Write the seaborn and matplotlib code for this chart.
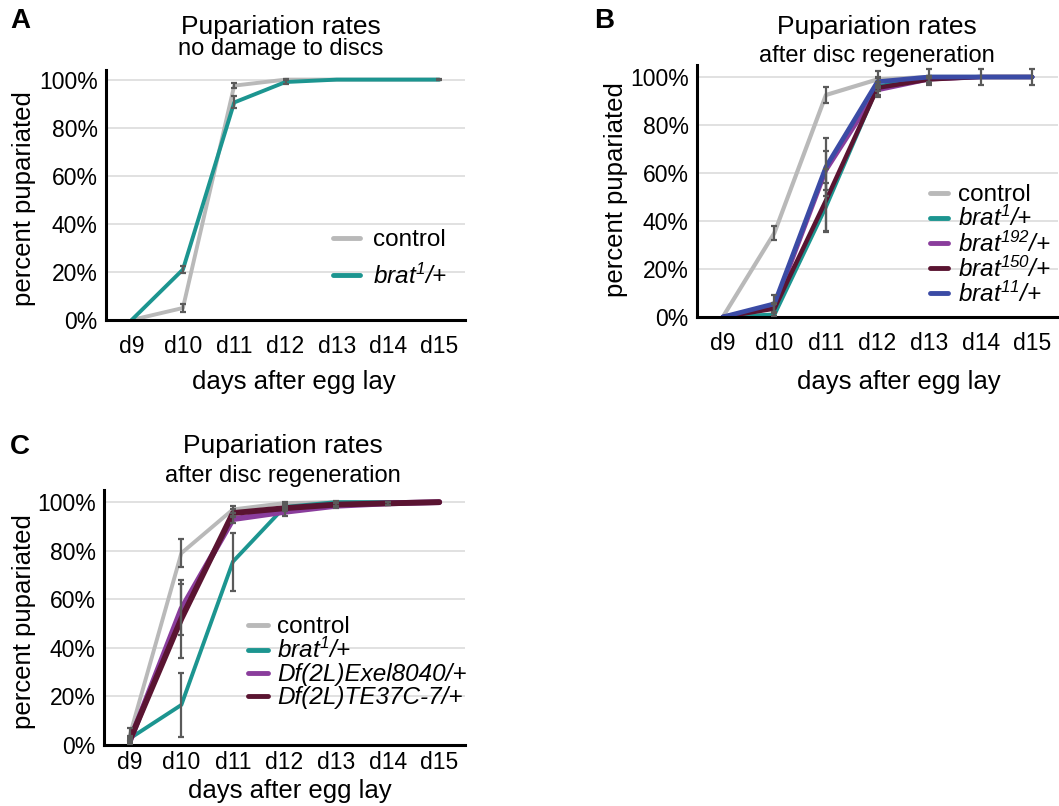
import numpy as np
import pandas as pd
import matplotlib
matplotlib.use("Agg")
import matplotlib.pyplot as plt
import seaborn as sns

days = ["d9", "d10", "d11", "d12", "d13", "d14", "d15"]
pct_ticks = [0, 20, 40, 60, 80, 100]

# labels
lab_control = "control"
lab_brat1 = r"brat$^{1}$/+"
lab_brat192 = r"brat$^{192}$/+"
lab_brat150 = r"brat$^{150}$/+"
lab_brat11 = r"brat$^{11}$/+"
lab_exel = "Df(2L)Exel8040/+"
lab_te37 = "Df(2L)TE37C-7/+"

# panel A - no damage to discs
a_control = [0, 5, 97.5, 100, 100, 100, 100]
a_control_err = [0, 1.7, 1.0, 0.3, 0, 0, 0.3]
a_brat1 = [0, 21, 90.5, 99, 100, 100, 100]
a_brat1_err = [0, 1.5, 2.5, 0.8, 0, 0, 0]

# panel B - after disc regeneration
b_control = [0, 35, 92.5, 99, 100, 100, 100]
b_control_err = [0, 2.8, 3.3, 3.5, 3.5, 3.5, 3.5]
b_brat1 = [0, 1, 46, 96, 100, 100, 100]
b_brat1_err = [0, 0.5, 10, 2, 0, 0, 0]
b_brat192 = [0, 4, 61, 94.5, 99, 100, 100]
b_brat192_err = [0, 2, 8, 2, 1, 0, 0]
b_brat150 = [0, 3.5, 48.5, 95.5, 99, 100, 100]
b_brat150_err = [0, 2, 13, 4, 1.5, 0, 0]
b_brat11 = [0, 5.5, 62.5, 98, 100, 100, 100]
b_brat11_err = [0, 3.5, 12, 2, 0.5, 0, 0]

# panel C - after disc regeneration, deficiencies
c_control = [4, 79, 97, 99.6, 100, 100, 100]
c_control_err = [3, 5.8, 1.5, 0.5, 0.3, 0, 0]
c_brat1 = [2.7, 16.5, 75.5, 98, 100, 100, 100]
c_brat1_err = [1, 13, 12, 1, 0, 0, 0]
c_exel = [1.5, 56, 93, 96, 98.5, 99.5, 100]
c_exel_err = [1, 10.5, 1.5, 1.5, 1, 0.5, 0]
c_te37 = [2, 52, 95.5, 97.5, 99, 99.5, 100]
c_te37_err = [1, 16, 1.5, 1, 0.5, 0.5, 0]

colors = {
    lab_control: "#b9b9b9",
    lab_brat1: "#1c9590",
    lab_brat192: "#8a3d9c",
    lab_brat150: "#5a1431",
    lab_brat11: "#3b4ba5",
    lab_exel: "#8a3d9c",
    lab_te37: "#5a1431",
}

sns.set_style("white")
plt.rcParams["font.family"] = ["Liberation Sans", "DejaVu Sans"]
plt.rcParams["mathtext.fontset"] = "custom"
plt.rcParams["mathtext.rm"] = "Liberation Sans:italic"
plt.rcParams["mathtext.it"] = "Liberation Sans:italic"
for key in ["text.color", "axes.labelcolor", "xtick.color", "ytick.color"]:
    plt.rcParams[key] = "black"

W, H = 1059, 806
fig = plt.figure(figsize=(W / 100, H / 100), dpi=100)


def rect(l, t, r, b):
    return [l / W, 1 - b / H, (r - l) / W, (b - t) / H]


def fxy(x, y):
    return x / W, 1 - y / H


def draw_panel(ax, labels, values, errs, ytop, lw, xpad):
    df = pd.DataFrame({
        "day": days * len(labels),
        "pct": np.concatenate(values),
        "genotype": np.repeat(labels, len(days)),
    })
    sns.lineplot(data=df, x="day", y="pct", hue="genotype", hue_order=labels,
                 palette=colors, linewidth=3, errorbar=None, sort=False, ax=ax)
    for line, w in zip(ax.get_lines(), lw):
        line.set_linewidth(w)
    old = ax.get_legend()
    handles = old.legend_handles
    old.remove()
    for v, e in zip(values, errs):
        keep = [i for i in range(len(days)) if e[i] > 0]
        ax.errorbar([days[i] for i in keep], [v[i] for i in keep],
                    yerr=[e[i] for i in keep], fmt="none", ecolor="#5a5a5a",
                    elinewidth=1.6, capsize=2, capthick=1.6, zorder=4)
    ax.set_xlim(-0.5, 6.5)
    ax.set_ylim(0, ytop)
    ax.set_xticks(range(len(days)))
    ax.set_xticklabels(days)
    ax.set_xticks(np.arange(-0.5, len(days)), minor=True)
    ax.set_yticks(pct_ticks)
    ax.set_yticklabels([f"{p}%" for p in pct_ticks])
    ax.tick_params(axis="x", which="major", length=0, pad=xpad, labelsize=16.5)
    ax.tick_params(axis="x", which="minor", length=4, width=1.5, direction="out")
    ax.tick_params(axis="y", length=3, width=1.5, pad=3, labelsize=16.5, direction="out")
    ax.grid(axis="y", color="#dcdcdc", lw=1.2)
    ax.grid(axis="x", visible=False)
    ax.set_axisbelow(True)
    for s in ["top", "right"]:
        ax.spines[s].set_visible(False)
    for s in ["left", "bottom"]:
        ax.spines[s].set_linewidth(2.2)
        ax.spines[s].set_color("black")
    ax.set_xlabel("")
    ax.set_ylabel("")
    return handles


def add_legend(ax, handles, labels, x, y, spacing, hlen, tpad):
    leg = ax.legend(handles, labels, loc="upper left", bbox_to_anchor=fxy(x, y),
                    bbox_transform=fig.transFigure, frameon=False, borderpad=0,
                    borderaxespad=0, fontsize=17.5, labelspacing=spacing,
                    handlelength=hlen, handletextpad=tpad)
    for h in leg.legend_handles:
        h.set_linewidth(3.5)
    for t in leg.get_texts():
        if t.get_text() != lab_control:
            t.set_fontstyle("italic")


def texts(letter, lx, ly, title, tx, ty, sub, sy, ylx, yly, xlx, xly):
    fig.text(*fxy(lx, ly), letter, fontsize=20, fontweight="bold", ha="center", va="center")
    fig.text(*fxy(tx, ty), title, fontsize=19, ha="center", va="center")
    fig.text(*fxy(tx, sy), sub, fontsize=17, ha="center", va="center")
    fig.text(*fxy(ylx, yly), "percent pupariated", fontsize=18.5, rotation=90,
             ha="center", va="center")
    fig.text(*fxy(xlx, xly), "days after egg lay", fontsize=18.5, ha="center", va="center")


# Panel A
axA = fig.add_axes(rect(106, 70, 465, 320))
labA = [lab_control, lab_brat1]
hA = draw_panel(axA, labA, [a_control, a_brat1], [a_control_err, a_brat1_err],
                104, [2.8, 2.8], 11)
add_legend(axA, hA, labA, 333, 229, 0.52, 1.1, 0.53)
texts("A", 20, 21, "Pupariation rates", 281, 27, "no damage to discs", 49, 24, 199, 294, 382)

# Panel B
axB = fig.add_axes(rect(697, 65, 1058, 317))
labB = [lab_control, lab_brat1, lab_brat192, lab_brat150, lab_brat11]
hB = draw_panel(axB, labB, [b_control, b_brat1, b_brat192, b_brat150, b_brat11],
                [b_control_err, b_brat1_err, b_brat192_err, b_brat150_err, b_brat11_err],
                105, [3.0, 3.0, 3.0, 3.2, 3.4], 11)
add_legend(axB, hB, labB, 930, 184, 0.0, 0.75, 0.41)
texts("B", 604, 21, "Pupariation rates", 877, 27, "after disc regeneration", 56, 616, 190, 899, 382)

# Panel C
axC = fig.add_axes(rect(104, 490, 465, 745))
labC = [lab_control, lab_brat1, lab_exel, lab_te37]
hC = draw_panel(axC, labC, [c_control, c_brat1, c_exel, c_te37],
                [c_control_err, c_brat1_err, c_exel_err, c_te37_err],
                105, [2.8, 2.8, 4.2, 4.2], 4)
add_legend(axC, hC, labC, 248, 616, 0.0, 0.82, 0.37)
texts("C", 20, 447, "Pupariation rates", 283, 446, "after disc regeneration", 476, 24, 622, 290, 791)

fig.savefig("out.png", dpi=100)
